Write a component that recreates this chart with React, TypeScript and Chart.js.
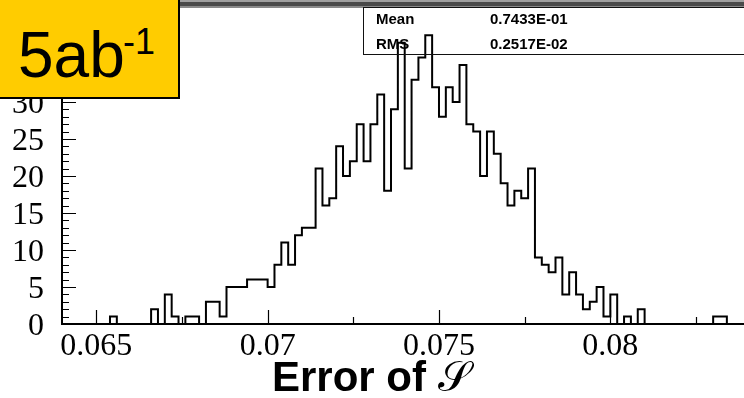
import React, { useEffect, useRef } from "react";
import { Chart, registerables } from "chart.js";

Chart.register(...registerables);

// Histogram definition: 100 bins from 0.064 to 0.084
const binLow = 0.064;
const binWidth = 0.0002;
const counts = [
  0, 0, 0, 0, 0, 0, 0, 1, 0, 0,
  0, 0, 0, 2, 0, 4, 1, 0, 1, 1,
  0, 3, 3, 1, 5, 5, 5, 6, 6, 6,
  5, 8, 11, 8, 12, 13, 13, 21, 16, 17,
  24, 20, 22, 27, 22, 27, 31, 18, 29, 38,
  21, 33, 36, 39, 32, 28, 32, 30, 35, 27,
  26, 20, 26, 23, 19, 16, 18, 17, 21, 9,
  8, 7, 9, 4, 7, 4, 2, 3, 5, 1,
  4, 0, 1, 0, 2, 0, 0, 0, 0, 0,
  0, 0, 0, 0, 0, 1, 1, 0, 0, 0,
];

const xMin = 0.064;
const xMax = 0.0839;
const yMin = 0;
const yMax = 43.1;

const xMajorTicks = [0.065, 0.07, 0.075, 0.08];
const xMinorTicks = [0.0675, 0.0725, 0.0775, 0.0825];
const yMajorTicks = [0, 5, 10, 15, 20, 25, 30, 35, 40];
const yMinorStep = 1;

const statsLabels = ["Mean", "RMS"];
const statsValues = ["0.7433E-01", "0.2517E-02"];

const rootTicks = {
  id: "rootTicks",
  afterDatasetsDraw(chart: any) {
    const { ctx, chartArea, scales } = chart;
    const xs = scales.x;
    const ys = scales.y;
    ctx.save();
    ctx.strokeStyle = "#000";
    ctx.lineWidth = 1.2;
    ctx.beginPath();
    xMajorTicks.forEach((v) => {
      const px = Math.round(xs.getPixelForValue(v)) + 0.5;
      ctx.moveTo(px, chartArea.bottom);
      ctx.lineTo(px, chartArea.bottom - 14);
    });
    xMinorTicks.forEach((v) => {
      const px = Math.round(xs.getPixelForValue(v)) + 0.5;
      ctx.moveTo(px, chartArea.bottom);
      ctx.lineTo(px, chartArea.bottom - 7);
    });
    for (let v = yMin; v <= yMax; v += yMinorStep) {
      const py = Math.round(ys.getPixelForValue(v)) + 0.5;
      const len = yMajorTicks.includes(v) ? 14 : 7;
      ctx.moveTo(chartArea.left, py);
      ctx.lineTo(chartArea.left + len, py);
    }
    ctx.stroke();
    ctx.restore();
  },
};

export default function App() {
  const canvasRef = useRef<HTMLCanvasElement | null>(null);

  useEffect(() => {
    const canvas = canvasRef.current;
    if (!canvas) return;
    const points = counts.map((c, i) => ({ x: binLow + i * binWidth, y: c }));
    points.push({ x: binLow + counts.length * binWidth, y: counts[counts.length - 1] });

    const serif = "'Liberation Serif', 'Times New Roman', serif";
    const chart = new Chart(canvas, {
      type: "line",
      data: {
        datasets: [
          {
            data: points,
            stepped: true,
            borderColor: "#000",
            borderWidth: 2,
            pointRadius: 0,
            fill: false,
            tension: 0,
          },
        ],
      },
      options: {
        animation: false,
        responsive: false,
        devicePixelRatio: 1,
        layout: { padding: { top: 5, left: 0, right: 0, bottom: 0 } },
        plugins: { legend: { display: false }, tooltip: { enabled: false } },
        scales: {
          x: {
            type: "linear",
            min: xMin,
            max: xMax,
            grid: { display: false, drawTicks: false },
            border: { display: true, color: "#000", width: 2 },
            ticks: {
              color: "#000",
              font: { family: serif, size: 32 },
              padding: 3,
              maxRotation: 0,
              autoSkip: false,
              callback: (v: any) => String(v),
            },
            afterBuildTicks: (s: any) => {
              s.ticks = xMajorTicks.map((v) => ({ value: v }));
            },
            afterFit: (s: any) => {
              s.height = 74;
              s.paddingLeft = 0;
              s.paddingRight = 0;
            },
          },
          y: {
            type: "linear",
            min: yMin,
            max: yMax,
            grid: { display: false, drawTicks: false },
            border: { display: true, color: "#000", width: 2 },
            ticks: {
              color: "#000",
              font: { family: serif, size: 32 },
              padding: 18,
              labelOffset: 3,
              autoSkip: false,
              callback: (v: any) => String(v),
            },
            afterBuildTicks: (s: any) => {
              s.ticks = yMajorTicks.map((v) => ({ value: v }));
            },
            afterFit: (s: any) => {
              s.width = 62;
              s.paddingTop = 0;
              s.paddingBottom = 0;
            },
          },
        },
      },
      plugins: [rootTicks],
    });
    return () => chart.destroy();
  }, []);

  const sans = "'Liberation Sans', Arial, Helvetica, sans-serif";

  return (
    <div
      style={{
        position: "absolute",
        left: 0,
        top: 0,
        width: 744,
        height: 398,
        overflow: "hidden",
        background: "#fff",
      }}
    >
      <canvas ref={canvasRef} width={744} height={398} style={{ position: "absolute", left: 0, top: 0 }} />

      {/* top frame band */}
      <div
        style={{
          position: "absolute",
          left: 0,
          top: 0,
          width: 744,
          height: 8,
          background:
            "linear-gradient(to bottom, #a0a0a0 0px, #a0a0a0 2px, #4a4a4a 2px, #4a4a4a 6px, #8a8a8a 6px, #8a8a8a 8px)",
        }}
      />

      {/* stats box */}
      <div
        style={{
          position: "absolute",
          left: 363,
          top: 7,
          width: 420,
          height: 48,
          boxSizing: "border-box",
          border: "1px solid #111",
          fontFamily: sans,
          fontWeight: "bold",
          fontSize: 15,
          color: "#000",
        }}
      >
        {statsLabels.map((lab, i) => (
          <React.Fragment key={lab}>
            <div style={{ position: "absolute", left: 12, top: 2 + i * 25, lineHeight: "18px" }}>{lab}</div>
            <div style={{ position: "absolute", left: 126, top: 2 + i * 25, lineHeight: "18px" }}>{statsValues[i]}</div>
          </React.Fragment>
        ))}
      </div>

      {/* luminosity label */}
      <div
        style={{
          position: "absolute",
          left: -3,
          top: -3,
          width: 183,
          height: 102,
          boxSizing: "border-box",
          border: "2px solid #000",
          background: "#FFCC00",
        }}
      >
        <span
          style={{
            position: "absolute",
            left: 19,
            top: 24,
            fontFamily: sans,
            fontSize: 64,
            lineHeight: "64px",
            color: "#000",
            whiteSpace: "nowrap",
          }}
        >
          5ab
        </span>
        <span
          style={{
            position: "absolute",
            left: 124,
            top: 25,
            fontFamily: sans,
            fontSize: 36,
            lineHeight: "36px",
            color: "#000",
            whiteSpace: "nowrap",
          }}
        >
          -1
        </span>
      </div>

      {/* x axis title */}
      <div
        style={{
          position: "absolute",
          left: 272,
          top: 356,
          fontFamily: sans,
          fontWeight: "bold",
          fontSize: 42,
          lineHeight: "42px",
          color: "#000",
          whiteSpace: "nowrap",
        }}
      >
        Error of <span style={{ fontFamily: "'DejaVu Serif', 'DejaVu Sans', serif", fontWeight: "normal" }}>𝒮</span>
      </div>
    </div>
  );
}
